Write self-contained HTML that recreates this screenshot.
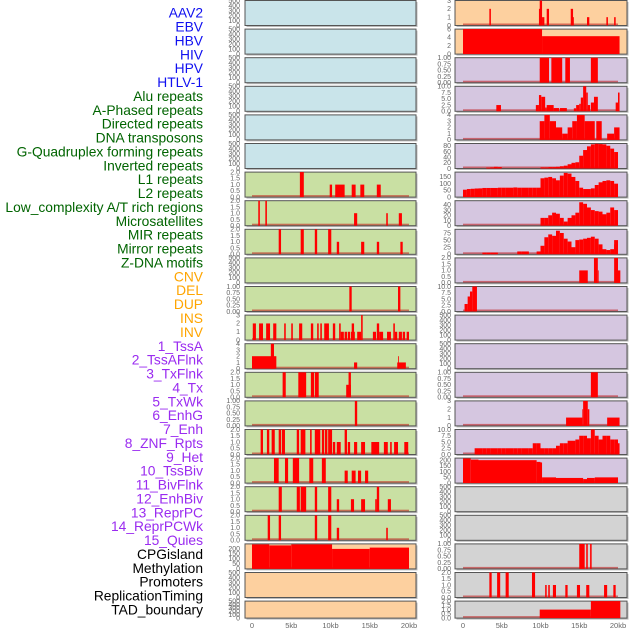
<!DOCTYPE html>
<html><head><meta charset="utf-8"><style>
html,body{margin:0;padding:0;background:#fff;}
svg{display:block;font-family:"Liberation Sans",sans-serif;}
</style></head><body>
<svg id="chart" width="630" height="630" viewBox="0 0 630 630" xmlns="http://www.w3.org/2000/svg">
<g id="labels"></g>
<g id="panels"></g>
<g id="xaxes"></g>
</svg>
<script>
// ---- labels ----
const labelNames = ["AAV2","EBV","HBV","HIV","HPV","HTLV-1","Alu repeats","A-Phased repeats","Directed repeats","DNA transposons","G-Quadruplex forming repeats","Inverted repeats","L1 repeats","L2 repeats","Low_complexity A/T rich regions","Microsatellites","MIR repeats","Mirror repeats","Z-DNA motifs","CNV","DEL","DUP","INS","INV","1_TssA","2_TssAFlnk","3_TxFlnk","4_Tx","5_TxWk","6_EnhG","7_Enh","8_ZNF_Rpts","9_Het","10_TssBiv","11_BivFlnk","12_EnhBiv","13_ReprPC","14_ReprPCWk","15_Quies","CPGisland","Methylation","Promoters","ReplicationTiming","TAD_boundary"];
const labelGroups = [6,13,5,15,5];
const groupColors = ["#1010f0","#006400","#ffa500","#9a2bf0","#000000"];

// ---- tick sets ----
const T500 = [0,100,200,300,400,500];
const T2 = [0,0.5,1,1.5,2];
const T1 = [0,0.25,0.5,0.75,1];
const T10 = [0,2.5,5,7.5,10];

// ---- left column data: [startKb, endKb, value] ----
const L7 = [[6.1,6.6,2],[9.9,10.2,1],[10.6,11.8,1],[12.7,13.2,1],[13.8,14.3,1],[15.9,16.4,1]];
const L8 = [[0.8,1.0,2],[1.7,1.9,2],[13.0,13.4,1],[17.1,17.3,1],[18.7,19.1,1]];
const L9 = [[3.4,3.7,2],[6.2,6.6,2],[8.0,8.3,2],[9.7,10.1,2],[10.8,11.1,1],[13.9,14.3,1],[15.9,16.2,1],[18.9,19.2,1]];
const L11 = [[12.4,12.7,1],[18.6,18.9,1]];
const L12 = [[0.1,0.5,2],[0.9,1.4,2],[1.8,2.3,2],[2.7,3.1,2],[4.1,4.3,2],[5.0,5.2,2],[6.0,6.4,2],[7.5,7.8,2],[8.3,8.5,2],[8.7,8.9,2],[9.2,9.8,2],[10.3,10.6,2],[11.1,11.3,2],[11.3,11.7,1],[11.8,12.1,1],[12.2,12.5,1],[12.6,13.1,1],[12.7,13.0,2],[13.4,13.9,1],[13.9,14.1,3],[15.4,15.8,1],[15.9,16.2,2],[16.2,16.7,1],[17.2,17.7,1],[18.0,18.2,2],[18.2,18.5,1],[18.7,19.1,1],[19.2,19.5,1],[19.7,20.0,1]];
const L13 = [[0,3.1,2],[2.4,2.8,4],[13.0,13.4,1],[18.5,19.6,1],[18.6,18.7,2]];
const L14 = [[3.9,4.3,2],[5.9,6.9,2],[7.5,7.9,2],[8.0,8.5,2],[12.0,12.6,1],[12.3,12.6,2]];
const L15 = [[13.1,13.4,1]];
const L16 = [[1.1,1.4,2],[1.9,2.2,2],[2.5,2.9,2],[3.4,3.7,2],[3.8,4.2,2],[5.7,6.0,2],[6.2,6.8,2],[7.4,7.6,2],[8.0,8.7,2],[8.9,9.2,2],[9.3,9.6,2],[9.7,10.2,2],[10.3,10.6,1],[10.8,11.3,1],[11.8,12.1,2],[12.2,12.5,1],[13.0,13.4,1],[13.9,14.4,1],[15.2,16.2,1],[16.8,17.3,1],[17.6,17.8,1],[18.1,18.6,1],[19.4,19.9,1]];
const L17 = [[2.8,3.4,2],[4.2,4.6,2],[5.2,6.0,2],[7.3,7.8,2],[8.9,9.4,2],[11.8,12.2,1],[12.7,13.2,1],[13.5,13.9,1],[14.4,14.8,1]];
const L18 = [[3.4,3.8,2],[5.7,6.1,2],[6.2,6.9,2],[8.0,8.3,2],[9.7,10.1,2],[10.8,11.1,1],[12.6,13.0,1],[13.9,14.4,1],[15.7,15.9,1],[15.9,16.2,2],[17.3,17.7,1]];
const L19 = [[2.0,2.3,2],[3.4,3.7,2],[8.0,8.3,2],[9.7,10.1,2],[10.8,11.1,1],[17.1,17.3,1]];
const L20 = [[0,2.2,245],[2.2,5.0,235],[5.0,10.2,245],[10.2,15.0,200],[15.0,20.0,213]];

// ---- right column data ----
const R1 = [[3.4,3.6,2],[9.8,10.1,2],[9.9,10.2,3],[10.2,10.5,1],[10.8,11.1,2],[13.9,14.2,2],[14.1,14.3,1],[16.0,16.3,1],[18.5,18.7,1],[19.5,19.7,1]];
const R2 = [[0,10.2,6],[10.2,20.2,4.3]];
const R3 = [[9.9,11.1,1],[11.4,12.8,1],[13.2,13.8,1],[16.5,17.4,1]];
const R4 = [[4.3,4.9,2.5],[9.4,9.8,2.5],[9.8,10.1,6.5],[10.1,10.6,5.8],[10.6,10.8,1.5],[10.8,11.7,2.5],[11.7,12.4,1.3],[12.5,13.4,1.3],[14.3,14.6,1.2],[14.6,15.0,2.5],[15.0,15.2,3],[15.2,15.5,5.5],[15.5,15.9,10],[15.9,16.1,7.5],[16.1,16.4,2.5],[16.5,16.9,3.5],[16.9,17.4,5.8],[19.7,20.0,3.5],[20.0,20.2,7.5]];
const R5 = [[9.9,10.5,3],[10.5,11.2,4],[11.2,12.0,3],[12.0,12.8,2],[12.8,13.5,1],[13.5,14.1,2],[14.1,14.7,3],[14.7,15.7,4],[15.7,17.0,3],[17.2,17.9,3],[18.6,19.5,1],[19.5,20.2,2]];
const R6bins = [0,0,0,0,0,0,3,4,6,5, 0,0,0,0,0,0,0,0,0,0, 4,4,5,5,6,8,10,15,20,22, 45,65,78,85,87,86,85,80,70,58];
const R7bins = [55,60,62,64,65,68,68,68,68,70, 70,70,70,72,70,70,70,70,70,70, 140,145,150,140,125,160,180,175,150,120, 70,60,60,65,90,110,120,125,120,100];
const R8bins = [0,0,0,0,0,0,0,0,0,0, 0,0,0,0,0,0,0,0,0,0, 15,15,20,25,23,15,8,15,20,25, 45,42,35,30,28,27,22,25,35,30];
const R9bins = [0,0,0,0,0,6,6,6,6,0, 0,0,0,0,10,10,10,0,0,10, 30,60,70,65,83,75,55,45,25,50, 52,55,58,62,55,35,18,15,18,35];
const R9tail = [[19.5,20.0,50]];
const R10 = [[15.0,16.1,1],[16.9,17.4,2],[17.4,17.5,1],[19.5,20.0,2],[20.0,20.3,1]];
const R11 = [[0.2,0.6,3],[0.6,0.9,6],[0.9,1.2,8],[1.2,1.8,10]];
const R14 = [[16.5,17.4,1]];
const R15 = [[13.3,15.4,1],[15.4,15.5,2],[15.5,16.1,3],[16.1,16.3,2],[18.6,20.2,1]];
const R16bins = [0,0,0,2.5,2.5,2.5,2.5,2.5,2.5,2.5, 2.5,2.5,2.5,2.5,2.5,2.5,2.5,2.5,4.5,4.5, 2.5,2.5,2.5,2.5,3.5,4.5,4.5,5.5,5.5,6, 7.5,7.5,6.5,10,7.5,6,7.5,7.5,6,6];
const R16tail = [[20.0,20.2,4.5]];
const R17 = [[0,1,215],[1,2,205],[2,9.5,200],[9.5,10,185],[10,10.2,180],[10.2,12,50],[12,15.5,45],[15.5,16,35],[16,17,45],[17,20,50]];
const R20 = [[15.0,15.7,1],[15.9,16.1,1],[16.4,16.6,1]];
const R21 = [[3.4,3.7,2],[4.4,4.8,2],[5.5,5.9,2],[8.9,9.3,2],[10.6,10.8,1],[11.0,11.2,1],[11.6,12.0,1],[13.2,13.5,1],[14.7,15.1,1],[15.9,16.3,1],[18.2,18.6,1],[19.4,19.7,1]];
const R22 = [[9.9,16.5,1],[16.5,20.3,2]];

const BLUE="#c9e4ea", GREEN="#c9e0a3", PEACH="#fdd09f", LAV="#d5c6e0", GRAY="#d3d3d3";

function binsToSegs(b){ const out=[]; b.forEach((v,i)=>{ if(v>0) out.push([i*0.5,i*0.5+0.5,v]); }); return out; }

const panels = [
 // left column
 {c:0,r:0,bg:BLUE,t:T500},{c:0,r:1,bg:BLUE,t:T500},{c:0,r:2,bg:BLUE,t:T500},{c:0,r:3,bg:BLUE,t:T500},{c:0,r:4,bg:BLUE,t:T500},{c:0,r:5,bg:BLUE,t:T500},
 {c:0,r:6,bg:GREEN,t:T2,s:L7,fmt:1},{c:0,r:7,bg:GREEN,t:T2,s:L8,fmt:1},{c:0,r:8,bg:GREEN,t:T2,s:L9,fmt:1},{c:0,r:9,bg:GREEN,t:T500},
 {c:0,r:10,bg:GREEN,t:T1,s:L11,fmt:2},{c:0,r:11,bg:GREEN,t:[0,1,2,3],s:L12},{c:0,r:12,bg:GREEN,t:[0,1,2,3,4],s:L13},
 {c:0,r:13,bg:GREEN,t:T2,s:L14,fmt:1},{c:0,r:14,bg:GREEN,t:T1,s:L15,fmt:2},{c:0,r:15,bg:GREEN,t:T2,s:L16,fmt:1},{c:0,r:16,bg:GREEN,t:T2,s:L17,fmt:1},
 {c:0,r:17,bg:GREEN,t:T2,s:L18,fmt:1},{c:0,r:18,bg:GREEN,t:T2,s:L19,fmt:1},{c:0,r:19,bg:PEACH,t:[0,50,100,150,200],ymax:250,s:L20},
 {c:0,r:20,bg:PEACH,t:T500},{c:0,r:21,bg:PEACH,t:T500},
 // right column
 {c:1,r:0,bg:PEACH,t:[0,1,2,3],s:R1},{c:1,r:1,bg:PEACH,t:[0,2,4,6],s:R2},{c:1,r:2,bg:LAV,t:T1,s:R3,fmt:2},
 {c:1,r:3,bg:LAV,t:T10,s:R4,fmt:1},{c:1,r:4,bg:LAV,t:[0,1,2,3,4],s:R5},{c:1,r:5,bg:LAV,t:[0,20,40,60,80],ymax:88,s:binsToSegs(R6bins)},
 {c:1,r:6,bg:LAV,t:[0,50,100,150],ymax:186,s:binsToSegs(R7bins)},{c:1,r:7,bg:LAV,t:[0,10,20,30,40],ymax:48,s:binsToSegs(R8bins)},
 {c:1,r:8,bg:LAV,t:[0,25,50,75],ymax:88,s:binsToSegs(R9bins).concat(R9tail)},{c:1,r:9,bg:LAV,t:T2,s:R10,fmt:1},
 {c:1,r:10,bg:LAV,t:T10,s:R11,fmt:1},{c:1,r:11,bg:LAV,t:T500},{c:1,r:12,bg:LAV,t:T500},{c:1,r:13,bg:LAV,t:T1,s:R14,fmt:2},
 {c:1,r:14,bg:LAV,t:[0,1,2,3],s:R15},{c:1,r:15,bg:LAV,t:T10,s:binsToSegs(R16bins).concat(R16tail),fmt:1},
 {c:1,r:16,bg:LAV,t:[0,50,100,150,200],ymax:218,s:R17},{c:1,r:17,bg:GRAY,t:T500},{c:1,r:18,bg:GRAY,t:T500},
 {c:1,r:19,bg:GRAY,t:T1,s:R20,fmt:2},{c:1,r:20,bg:GRAY,t:T2,s:R21,fmt:1},{c:1,r:21,bg:GRAY,t:T2,s:R22,fmt:1}
];

const xTicks = [0,5,10,15,20];
const xTickLabels = ["0","5kb","10kb","15kb","20kb"];

const NS="http://www.w3.org/2000/svg";
function mk(tag,attrs,parent){ const e=document.createElementNS(NS,tag); for(const k in attrs) e.setAttribute(k,attrs[k]); parent.appendChild(e); return e; }
const colX = [{left:245,right:416,x0:252,k:7.85,tx:240},{left:455,right:627,x0:463,k:7.75,tx:451}];
function xs(c,kb){ return colX[c].x0 + kb*colX[c].k; }
function rowTop(r){ return 0.5 + r*28.6; }
function rowH(r){ return r===21 ? 17 : 25; }

// labels
const lg=document.getElementById('labels');
let gi=0, gc=0;
labelNames.forEach((n,i)=>{
  while(gc>=labelGroups[gi]){ gi++; gc=0; }
  gc++;
  const t=mk('text',{x:203,y:14+i*13.88,'text-anchor':'end','dominant-baseline':'middle','font-size':'13.8',fill:groupColors[gi]},lg);
  t.textContent=n;
  
  
});

// panels
const pg=document.getElementById('panels');
panels.forEach((p,idx)=>{
  const C=colX[p.c], top=rowTop(p.r), h=rowH(p.r), bot=top+h;
  const ymax = p.ymax || p.t[p.t.length-1];
  const g=mk('g',{},pg);
  
  
  mk('rect',{x:C.left+1.5,y:top+1.5,width:C.right-C.left,height:h,fill:'#bbb'},g);
  mk('rect',{x:C.left,y:top,width:C.right-C.left,height:h,fill:p.bg,stroke:'#555','stroke-width':1},g);
  const yv=v=>bot-(v/ymax)*h;
  if(p.s){
    mk('rect',{x:xs(p.c,0),y:bot-2,width:xs(p.c,20)-xs(p.c,0),height:1.6,fill:'rgba(190,20,20,0.55)'},g);
    p.s.forEach(s=>{
      const b=mk('rect',{x:xs(p.c,s[0]),y:yv(Math.min(s[2],ymax)),width:Math.max(0.8,xs(p.c,s[1])-xs(p.c,s[0])),height:bot-yv(Math.min(s[2],ymax)),fill:'#ff0000'},g);
      
      
    });
  }
  p.t.forEach(t=>{
    const lbl=mk('text',{x:C.tx,y:yv(t)+2.3,'text-anchor':'end','font-size':'7',fill:'#666'},g);
    lbl.textContent = p.fmt ? t.toFixed(p.fmt) : String(t);
    
    
  });
});

// x axes
const xg=document.getElementById('xaxes');
[0,1].forEach(c=>{
  xTicks.forEach((k,i)=>{
    const t=mk('text',{x:xs(c,k),y:628,'text-anchor':'middle','font-size':'7.5',fill:'#666'},xg);
    t.textContent=xTickLabels[i];
    
    
  });
});
</script>
</body></html>
